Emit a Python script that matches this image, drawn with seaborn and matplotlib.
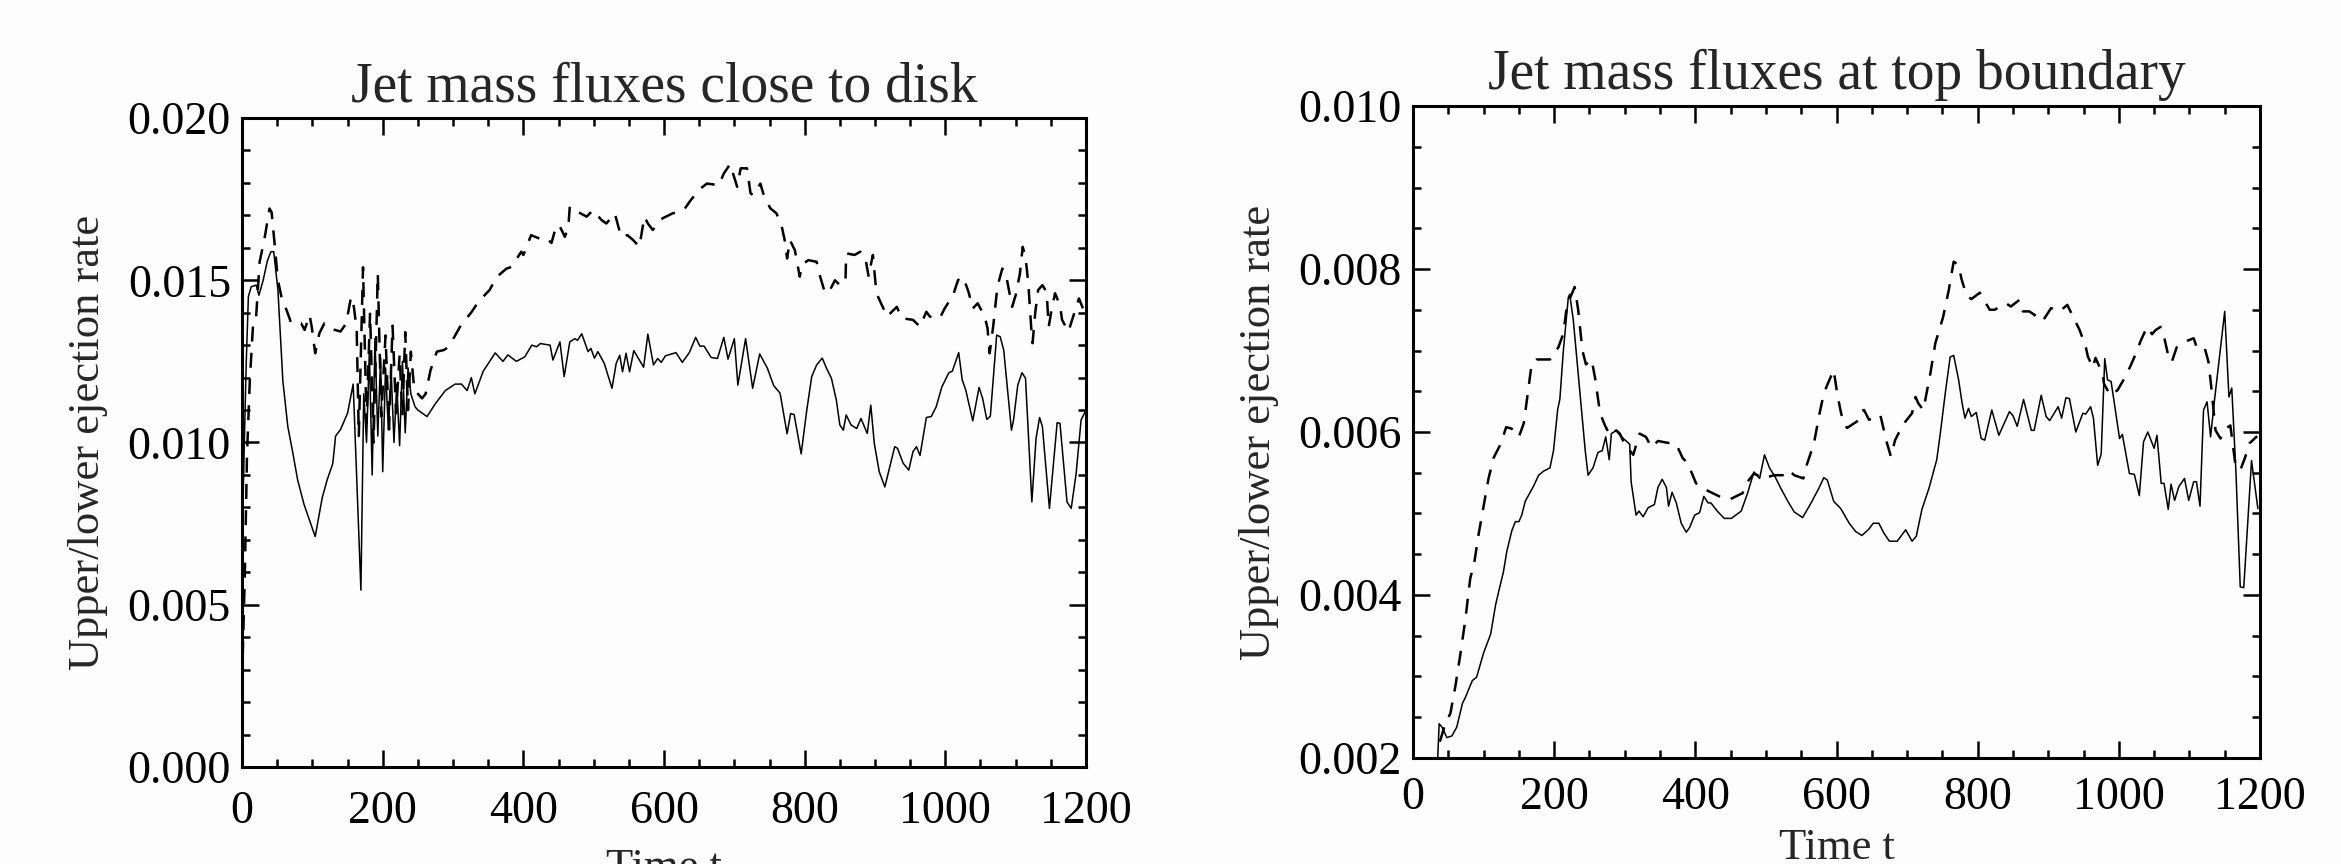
import numpy as np
import pandas as pd
import seaborn as sns
import matplotlib
matplotlib.use("Agg")
import matplotlib.pyplot as plt
from matplotlib.ticker import MultipleLocator, FormatStrFormatter

# values, rates in units of 1e-3

# left panel: jet mass fluxes close to disk
disk_solid_t = [0, 3, 6, 9, 13, 20, 24, 30, 36, 41, 45, 51, 58, 65, 72, 79, 88, 96, 104, 114,
                121, 129, 133, 140, 150, 158, 169, 173, 177, 181, 185, 189, 193, 197, 200, 204,
                208, 212, 216, 220, 224, 228, 232, 236, 240, 246, 250, 263, 275, 289, 303, 312,
                320, 326, 331, 343, 360, 371, 378, 390, 402, 412, 419, 424, 438, 442, 452, 458,
                466, 473, 477, 483, 492, 496, 501, 506, 515, 526, 532, 537, 541, 546, 551, 557,
                571, 577, 585, 591, 596, 602, 617, 626, 636, 645, 651, 657, 667, 676, 685, 691,
                700, 705, 716, 726, 736, 747, 756, 765, 775, 780, 785, 795, 803, 810, 817, 825,
                831, 838, 845, 850, 855, 859, 866, 874, 880, 889, 894, 899, 906, 914, 928, 932,
                940, 948, 954, 959, 964, 973, 980, 987, 995, 1005, 1010, 1019, 1024, 1029, 1039,
                1048, 1053, 1059, 1064, 1073, 1078, 1083, 1094, 1097, 1103, 1109, 1114, 1123,
                1129, 1134, 1138, 1148, 1159, 1163, 1173, 1179, 1186, 1193, 1200]
disk_solid_v = [6.8, 9.8, 12.5, 14.5, 14.8, 14.85, 14.54, 15.0, 15.6, 15.88, 15.88, 14.7, 11.9,
                10.5, 9.7, 8.85, 8.1, 7.6, 7.1, 8.3, 8.85, 9.35, 10.2, 10.4, 10.9, 11.8, 5.45,
                11.5, 10.0, 12.8, 9.0, 13.2, 10.2, 12.6, 9.1, 12.3, 10.4, 12.2, 10.0, 11.8, 9.9,
                12.5, 10.3, 12.3, 11.5, 11.1, 11.0, 10.8, 11.2, 11.6, 11.8, 11.8, 11.6, 12.0,
                11.5, 12.2, 12.76, 12.5, 12.7, 12.5, 12.64, 13.0, 12.95, 13.05, 13.0, 12.54, 13.1,
                12.03, 13.1, 13.2, 13.15, 13.35, 12.8, 12.9, 12.6, 12.8, 12.44, 11.67, 12.44,
                12.69, 12.18, 12.75, 12.18, 12.83, 12.32, 13.34, 12.39, 12.59, 12.47, 12.67,
                12.77, 12.47, 12.77, 13.24, 12.97, 12.97, 12.62, 12.59, 13.24, 12.57, 13.2,
                11.77, 13.2, 11.67, 12.73, 12.29, 11.75, 11.52, 10.27, 10.89, 10.86, 9.65, 11.0,
                12.03, 12.39, 12.6, 12.29, 11.98, 11.31, 10.54, 10.38, 10.85, 10.54, 10.43,
                10.74, 10.28, 11.15, 9.97, 9.1, 8.63, 9.87, 9.82, 9.36, 9.15, 9.72, 9.87, 9.6,
                10.77, 10.8, 11.1, 11.71, 12.15, 12.2, 12.77, 11.93, 11.62, 10.67, 11.7, 11.36,
                10.71, 10.81, 13.31, 13.26, 12.85, 10.38, 10.69, 11.77, 12.15, 11.98, 8.17,
                10.13, 10.77, 10.49, 7.97, 10.61, 10.59, 8.17, 7.97, 9.05, 10.69, 11.0]

disk_dash_t = [0, 4, 7, 11, 16, 20, 25, 32, 39, 42, 46, 51, 56, 65, 70, 84, 89, 96, 99, 104,
               110, 117, 124, 140, 148, 155, 159, 163, 166, 172, 177, 182, 187, 193, 198, 204,
               209, 214, 219, 224, 228, 232, 236, 240, 245, 250, 256, 261, 268, 277, 287, 294,
               310, 327, 336, 352, 362, 376, 383, 397, 400, 411, 428, 433, 440, 447, 452, 459,
               464, 466, 473, 490, 499, 511, 518, 530, 539, 548, 556, 565, 572, 577, 584, 598,
               612, 628, 638, 652, 661, 678, 685, 694, 704, 709, 718, 723, 727, 737, 741, 751,
               760, 768, 772, 775, 779, 786, 793, 796, 805, 817, 820, 829, 836, 843, 850, 858,
               859, 871, 879, 886, 891, 894, 897, 902, 912, 917, 931, 938, 954, 964, 973, 978,
               992, 999, 1011, 1018, 1023, 1027, 1033, 1039, 1046, 1056, 1060, 1063, 1068, 1074,
               1081, 1086, 1095, 1100, 1106, 1110, 1114, 1118, 1122, 1124, 1128, 1132, 1138,
               1144, 1147, 1151, 1156, 1163, 1166, 1175, 1181, 1190, 1200]
disk_dash_v = [2.6, 6.0, 9.6, 11.9, 13.77, 13.88, 15.57, 16.29, 17.21, 17.1, 16.19, 15.0, 14.49,
               13.98, 13.67, 13.67, 13.47, 13.93, 13.57, 12.75, 13.37, 13.67, 13.52, 13.42,
               13.67, 14.49, 14.18, 13.47, 10.2, 15.4, 10.6, 14.0, 10.0, 15.2, 10.8, 13.3, 10.4,
               13.6, 10.9, 12.7, 10.8, 13.4, 11.0, 12.8, 11.6, 11.5, 11.36, 11.5, 12.23, 12.8,
               12.85, 12.95, 13.57, 14.04, 14.34, 14.7, 15.1, 15.36, 15.41, 15.88, 15.78, 16.39,
               16.24, 16.29, 16.15, 16.7, 16.65, 16.34, 16.65, 17.27, 17.16, 16.96, 17.16, 16.86,
               16.75, 17.06, 16.34, 16.39, 16.24, 16.03, 16.96, 16.75, 16.55, 16.91, 17.06,
               17.16, 17.47, 17.83, 17.98, 17.93, 18.29, 18.58, 17.88, 18.45, 18.45, 17.68,
               17.62, 17.98, 17.68, 17.22, 17.06, 16.6, 16.19, 15.67, 16.24, 15.93, 15.11,
               15.47, 15.62, 15.57, 15.26, 14.6, 14.7, 15.0, 14.85, 14.95, 15.83, 15.78, 15.88,
               15.72, 15.11, 15.47, 15.78, 14.6, 14.13, 13.88, 14.18, 13.83, 13.78, 13.57,
               14.03, 13.88, 13.83, 14.13, 14.54, 15.0, 15.11, 15.0, 14.64, 14.13, 14.29, 13.88,
               13.52, 12.75, 13.57, 14.8, 15.36, 15.2, 14.18, 14.54, 15.2, 16.03, 15.72, 14.9,
               13.57, 13.06, 14.03, 14.7, 14.85, 14.64, 13.57, 14.08, 14.6, 14.23, 13.78, 13.42,
               13.83, 14.44, 13.9]

# right panel: jet mass fluxes at top boundary
top_solid_t = [35, 37, 41, 48, 55, 62, 70, 74, 84, 90, 100, 110, 117, 121, 128, 133, 140, 145,
               150, 154, 159, 166, 171, 178, 185, 194, 199, 205, 208, 213, 220, 222, 227, 236,
               244, 248, 255, 262, 268, 273, 278, 281, 288, 293, 302, 307, 309, 316, 320, 326,
               333, 342, 347, 353, 359, 362, 367, 373, 380, 387, 392, 399, 406, 412, 418, 422,
               432, 441, 451, 465, 474, 483, 491, 498, 505, 513, 521, 531, 540, 552, 564, 575,
               582, 587, 596, 606, 618, 627, 636, 646, 652, 660, 667, 675, 686, 698, 707, 713,
               721, 731, 742, 747, 754, 761, 766, 773, 778, 782, 787, 791, 798, 805, 810, 820,
               830, 845, 850, 856, 865, 876, 880, 890, 897, 902, 914, 919, 925, 930, 939, 949,
               953, 960, 964, 970, 975, 980, 984, 989, 993, 1001, 1005, 1015, 1022, 1029, 1035,
               1041, 1050, 1054, 1060, 1064, 1070, 1074, 1079, 1085, 1093, 1099, 1106, 1110,
               1115, 1120, 1125, 1130, 1135, 1150, 1156, 1160, 1166, 1172, 1177, 1188, 1197]
top_solid_v = [2.0, 2.42, 2.38, 2.25, 2.27, 2.38, 2.67, 2.74, 2.95, 2.99, 3.29, 3.52, 3.88,
               4.03, 4.28, 4.54, 4.79, 4.9, 4.9, 4.98, 5.15, 5.26, 5.34, 5.47, 5.52, 5.56, 5.77,
               6.28, 6.4, 7.0, 7.65, 7.69, 7.38, 6.53, 5.77, 5.47, 5.56, 5.75, 5.77, 5.94, 5.66,
               5.98, 6.02, 5.96, 5.89, 5.85, 5.39, 4.98, 5.03, 4.96, 5.07, 5.11, 5.32, 5.42,
               5.32, 5.09, 5.26, 5.13, 4.88, 4.77, 4.83, 4.98, 5.01, 5.21, 5.13, 5.13, 5.02,
               4.94, 4.94, 5.03, 5.25, 5.51, 5.43, 5.72, 5.56, 5.45, 5.31, 5.15, 5.02, 4.95,
               5.13, 5.31, 5.44, 5.41, 5.15, 5.06, 4.88, 4.78, 4.73, 4.81, 4.88, 4.88, 4.76,
               4.66, 4.66, 4.8, 4.66, 4.72, 5.05, 5.31, 5.66, 5.98, 6.47, 6.92, 6.94, 6.64,
               6.35, 6.17, 6.29, 6.19, 6.24, 5.92, 5.9, 6.27, 5.96, 6.25, 6.2, 6.07, 6.4, 6.02,
               6.02, 6.45, 6.19, 6.14, 6.31, 6.17, 6.42, 6.41, 6.0, 6.23, 6.22, 6.31, 6.17, 5.59,
               5.73, 6.9, 6.64, 6.62, 6.39, 5.92, 5.97, 5.49, 5.48, 5.22, 5.88, 6.0, 5.8, 5.96,
               5.37, 5.37, 5.05, 5.36, 5.16, 5.33, 5.43, 5.16, 5.39, 5.39, 5.09, 6.27, 6.37,
               5.94, 6.35, 7.48, 6.43, 6.54, 5.49, 4.1, 4.09, 5.65, 5.06]

top_dash_t = [38, 45, 53, 60, 67, 74, 81, 87, 93, 100, 107, 114, 124, 132, 140, 150, 157, 162,
              168, 175, 194, 206, 213, 218, 229, 234, 240, 245, 253, 258, 265, 272, 279, 288,
              293, 300, 312, 321, 330, 338, 347, 359, 373, 382, 389, 401, 415, 434, 448, 467,
              474, 483, 497, 511, 526, 533, 540, 553, 558, 568, 576, 582, 587, 596, 601, 606,
              610, 615, 629, 634, 639, 646, 662, 671, 677, 683, 690, 696, 707, 712, 716, 723,
              733, 740, 751, 759, 766, 773, 777, 784, 791, 803, 817, 824, 840, 847, 859, 864,
              873, 880, 892, 904, 916, 927, 937, 944, 953, 956, 963, 967, 977, 979, 988, 993,
              998, 1010, 1017, 1024, 1031, 1040, 1047, 1052, 1059, 1064, 1071, 1075, 1082,
              1094, 1106, 1111, 1122, 1127, 1131, 1137, 1144, 1151, 1158, 1165, 1172, 1179,
              1185, 1196]
top_dash_v = [2.2, 2.4, 2.55, 2.88, 3.27, 3.69, 4.2, 4.41, 4.75, 5.09, 5.43, 5.68, 5.85, 6.06,
              6.04, 5.94, 6.11, 6.44, 6.83, 6.89, 6.89, 7.04, 7.21, 7.55, 7.78, 7.5, 7.0, 6.83,
              6.89, 6.66, 6.23, 6.08, 5.96, 6.02, 5.98, 5.85, 5.72, 5.98, 5.94, 5.81, 5.89, 5.87,
              5.85, 5.68, 5.62, 5.37, 5.29, 5.21, 5.17, 5.25, 5.39, 5.49, 5.43, 5.47, 5.47,
              5.53, 5.47, 5.43, 5.6, 5.86, 6.23, 6.47, 6.58, 6.76, 6.47, 6.25, 6.11, 6.05,
              6.13, 6.25, 6.27, 6.15, 6.21, 5.88, 5.7, 5.9, 6.02, 6.11, 6.23, 6.43, 6.35, 6.27,
              6.72, 7.09, 7.41, 7.74, 8.09, 8.05, 7.88, 7.68, 7.63, 7.71, 7.5, 7.5, 7.58, 7.54,
              7.62, 7.48, 7.48, 7.44, 7.36, 7.52, 7.48, 7.56, 7.38, 7.26, 7.05, 6.93, 6.79,
              6.91, 6.71, 6.59, 6.45, 6.49, 6.51, 6.69, 6.82, 6.96, 7.12, 7.29, 7.2, 7.25, 7.29,
              7.17, 6.9, 6.86, 7.04, 7.11, 7.15, 7.02, 7.02, 6.86, 6.55, 6.02, 5.92, 6.04, 6.08,
              5.61, 5.53, 5.69, 5.86, 5.95]

titles = ["Jet mass fluxes close to disk", "Jet mass fluxes at top boundary"]
ylims = [(0.0, 0.020), (0.002, 0.010)]
ymajor = [0.005, 0.002]
yminor = [0.001, 0.0005]


sns.set_style("ticks")
plt.rcParams['font.family'] = ['Liberation Serif', 'DejaVu Serif']
plt.rcParams['axes.linewidth'] = 2.2

fig = plt.figure(figsize=(23.41, 8.64), dpi=100, facecolor='#fcfdfc')
ax_left = fig.add_axes([0.1034, 0.1123, 0.3605, 0.7511])
ax_right = fig.add_axes([0.6036, 0.1227, 0.3618, 0.7546])

panels = [
    (ax_left, disk_solid_t, disk_solid_v, disk_dash_t, disk_dash_v),
    (ax_right, top_solid_t, top_solid_v, top_dash_t, top_dash_v),
]
xpads = [17, 13]
xlabelpads = [11, 7]

for i, (ax, ts, vs, td, vd) in enumerate(panels):
    ax.set_facecolor('#fcfdfc')
    sns.lineplot(x=ts, y=np.array(vs) / 1000, ax=ax, color='black', lw=1.1,
                 estimator=None, sort=False)
    sns.lineplot(x=td, y=np.array(vd) / 1000, ax=ax, color='black', lw=1.8,
                 linestyle=(0, (6, 4.5)), estimator=None, sort=False)

    ax.set_xlim(0, 1200)
    ax.set_ylim(*ylims[i])
    ax.xaxis.set_major_locator(MultipleLocator(200))
    ax.xaxis.set_minor_locator(MultipleLocator(50))
    ax.yaxis.set_major_locator(MultipleLocator(ymajor[i]))
    ax.yaxis.set_minor_locator(MultipleLocator(yminor[i]))
    ax.yaxis.set_major_formatter(FormatStrFormatter('%.3f'))

    ax.tick_params(which='both', direction='in', top=True, right=True, width=1.8,
                   labelsize=33, colors='black')
    ax.tick_params(which='major', length=12)
    ax.tick_params(which='minor', length=5.5)
    ax.tick_params(axis='x', pad=xpads[i])
    ax.tick_params(axis='y', pad=8)
    for s in ax.spines.values():
        s.set_color('black')

    ax.set_title(titles[i], fontsize=40, pad=12)
    ax.set_ylabel("Upper/lower ejection rate", fontsize=32, labelpad=14)
    ax.set_xlabel("Time t", fontsize=32, labelpad=xlabelpads[i])

fig.savefig("out.png", dpi=100, facecolor=fig.get_facecolor())
